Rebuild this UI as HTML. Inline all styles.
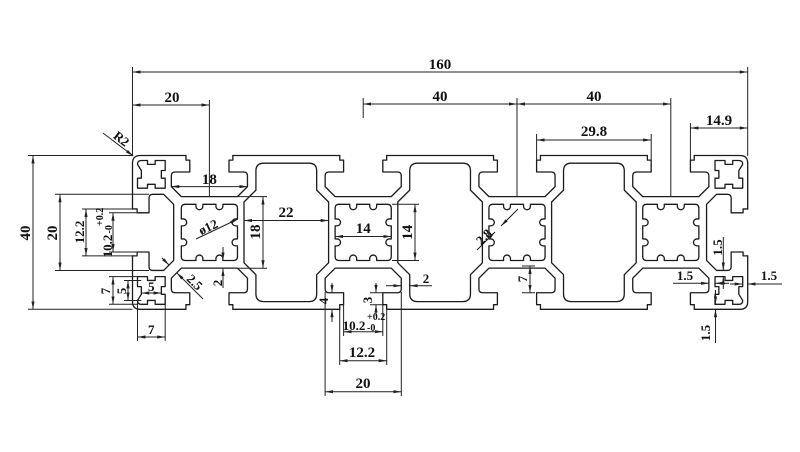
<!DOCTYPE html>
<html><head><meta charset="utf-8"><style>
html,body{margin:0;padding:0;background:#fff}
svg{display:block}
text{font-family:"Liberation Serif",serif;font-weight:bold;font-size:15px;fill:#111;text-anchor:middle}
text.s{font-size:10px;text-anchor:start}
text.m{font-size:13px}
.d{marker-start:url(#ar);marker-end:url(#ar)}
.e{marker-end:url(#ar)}
</style></head><body>
<svg width="800" height="452" viewBox="0 0 800 452" xmlns="http://www.w3.org/2000/svg">
<defs>
<marker id="ar" viewBox="0 0 10 4" refX="10" refY="2" markerWidth="8" markerHeight="3.2" markerUnits="userSpaceOnUse" orient="auto-start-reverse"><path d="M0,0 L10,2 L0,4 z" fill="#222" stroke="none"/></marker>
<path id="slot" d="M -6.1 0 V 1.2 H -5.1 V 4.3 H -8.9 Q -9.9 4.3 -9.9 5.3 V 8.1 L -7.3 10.7 H 7.3 L 9.9 8.1 V 5.3 Q 9.9 4.3 8.9 4.3 H 5.1 V 1.2 H 6.1 V 0"/>
<path id="cc" d="M 1.3 2.3 Q 1.3 1.3 2.3 1.3 H 3.9 V 2.3 H 5.9 V 1.3 H 8.5 V 3.9 H 7.5 V 5.9 H 8.5 V 8.5 H 5.9 V 7.5 H 3.9 V 8.5 H 1.3 V 5.9 H 2.3 V 3.9 Z"/>
<path id="big" d="M -5.9 2 H 5.9 Q 7.9 2 7.9 4 V 9 L 11 12.1 V 27.9 L 7.9 31 V 36 Q 7.9 38 5.9 38 H -5.9 Q -7.9 38 -7.9 36 V 31 L -11 27.9 V 12.1 L -7.9 9 V 4 Q -7.9 2 -5.9 2 Z"/>
<path id="gs" d="M -6.3 -7.3 H -3.5 V -6.8 A 0.9 0.9 0 0 0 -1.7 -6.8 V -7.3 H 1.7 V -6.8 A 0.9 0.9 0 0 0 3.5 -6.8 V -7.3 H 6.3 Q 7.3 -7.3 7.3 -6.3"/>
<g id="gear"><use href="#gs"/><use href="#gs" transform="rotate(90)"/><use href="#gs" transform="rotate(180)"/><use href="#gs" transform="rotate(270)"/></g>
</defs>

<!-- profile -->
<g transform="translate(132.5,155.5) scale(3.845)" fill="none" stroke="#1c1c1c" stroke-width="0.34" stroke-linejoin="round" stroke-linecap="round">
<path d="M 0 13.9 V 2 Q 0 0 2 0 H 13.9 M 26.1 0 H 53.9 M 66.1 0 H 93.9 M 106.1 0 H 133.9 M 146.1 0 H 158 Q 160 0 160 2 V 13.9 M 0 26.1 V 38 Q 0 40 2 40 H 13.9 M 26.1 40 H 53.9 M 66.1 40 H 93.9 M 106.1 40 H 133.9 M 146.1 40 H 158 Q 160 40 160 38 V 26.1"/>
<use href="#slot" transform="translate(20 0)"/>
<use href="#slot" transform="translate(60 0)"/>
<use href="#slot" transform="translate(100 0)"/>
<use href="#slot" transform="translate(140 0)"/>
<use href="#slot" transform="matrix(1 0 0 -1 20 40)"/>
<use href="#slot" transform="matrix(1 0 0 -1 60 40)"/>
<use href="#slot" transform="matrix(1 0 0 -1 100 40)"/>
<use href="#slot" transform="matrix(1 0 0 -1 140 40)"/>
<use href="#slot" transform="matrix(0 1 1 0 0 20)"/>
<use href="#slot" transform="matrix(0 1 -1 0 160 20)"/>
<use href="#cc"/>
<use href="#cc" transform="matrix(-1 0 0 1 160 0)"/>
<use href="#cc" transform="matrix(1 0 0 -1 0 40)"/>
<use href="#cc" transform="matrix(-1 0 0 -1 160 40)"/>
<use href="#big" transform="translate(40 0)"/>
<use href="#big" transform="translate(80 0)"/>
<use href="#big" transform="translate(120 0)"/>
<use href="#gear" transform="translate(20 20)"/>
<use href="#gear" transform="translate(60 20)"/>
<use href="#gear" transform="translate(100 20)"/>
<use href="#gear" transform="translate(140 20)"/>
</g>

<!-- dimension geometry -->
<g stroke="#222" stroke-width="1" fill="none">
<path d="M 132.5 67 V 156 M 747.7 67 V 156 M 209.4 100 V 196.6 M 363.2 98 V 118 M 517 98 V 196.6 M 670.8 98 V 196.6 M 536.6 134 V 160 M 651.2 134 V 160 M 690.4 123 V 160 M 28 155.5 H 132.5 M 28 309.3 H 132.5 M 55 194.3 H 149 M 55 270.5 H 149 M 82 209 H 132.5 M 82 255.9 H 132.5 M 109 212.8 H 149 M 109 252 H 149 M 109 276.6 H 137.5 M 109 304.3 H 137.5 M 124 280.5 H 141.3 M 124 300.5 H 141.3 M 137.5 300 V 341 M 165.2 296 V 341 M 238 196.6 H 267 M 238 268.2 H 267 M 392 204.3 H 419 M 392 260.5 H 419 M 522 266 H 535 M 522 292.8 H 535 M 370 292.8 H 383 M 370 304.7 H 383 M 343.6 305 V 336 M 382.8 305 V 336 M 339.7 309 V 365 M 386.7 309 V 365 M 325.1 292 V 396 M 401.3 292 V 396"/>

<path class="d" d="M 132.5 72 H 747.7"/>
<path class="d" d="M 132.5 105 H 209.4"/>
<path class="d" d="M 363.2 104 H 517"/>
<path class="d" d="M 517 104 H 670.8"/>
<path class="d" d="M 536.6 140 H 651.2"/>
<path class="d" d="M 690.4 128 H 747.7"/>
<path class="d" d="M 33 155.5 V 309.3"/>
<path class="d" d="M 60 194.3 V 270.5"/>
<path class="d" d="M 86 209 V 255.9"/>
<path class="d" d="M 113 212.8 V 252"/>
<path class="d" d="M 113 276.6 V 304.3"/>
<path class="d" d="M 128 280.5 V 300.5"/>
<path class="d" d="M 141.3 293 H 161.3"/>
<path class="d" d="M 137.5 337 H 165.2"/>
<path class="d" d="M 171.3 186.6 H 247.5"/>
<path class="d" d="M 263 196.6 V 268.2"/>
<path class="d" d="M 244 220.5 H 328.6"/>
<path class="d" d="M 335.1 236.5 H 391.3"/>
<path class="d" d="M 415 204.3 V 260.5"/>
<path class="d" d="M 530 266 V 292.8"/>
<path class="d" d="M 343.6 331.7 H 382.8"/>
<path class="d" d="M 339.7 360.7 H 386.7"/>
<path class="d" d="M 325.1 391.7 H 401.3"/>

<path class="e" d="M 223 247 V 260.5"/>
<path class="e" d="M 223 288 V 268.2"/>
<path class="e" d="M 386 285.7 H 401.3"/>
<path class="e" d="M 432 285.7 H 409.7"/>
<path class="e" d="M 162 258 L 169 265"/>
<path class="e" d="M 203 299 L 176.7 272.7"/>
<path class="e" d="M 477 250 L 495 232"/>
<path class="e" d="M 518 209 L 501 226"/>
<path class="e" d="M 332 283 V 292.8"/>
<path class="e" d="M 332 322 V 309.3"/>
<path class="e" d="M 376 283 V 292.8"/>
<path class="e" d="M 376 316 V 304.7"/>
<path class="e" d="M 723.3 237 V 270.5"/>
<path class="e" d="M 723.3 289 V 276.6"/>
<path class="e" d="M 673 283.3 H 708.9"/>
<path class="e" d="M 729 283.3 H 715"/>
<path class="e" d="M 730 284 H 742.7"/>
<path class="e" d="M 782 284 H 747.7"/>
<path class="e" d="M 715.5 290 V 304.3"/>
<path class="e" d="M 715.5 343 V 309.3"/>
<path class="e" d="M 103 133 L 133.3 156"/>
<path class="e" d="M 196 239 L 238 219"/>
</g>

<!-- labels -->
<text x="440" y="69">160</text>
<text x="172" y="102">20</text>
<text x="440" y="101">40</text>
<text x="594" y="101">40</text>
<text x="594" y="136">29.8</text>
<text x="719" y="125">14.9</text>
<text class="m" transform="translate(118.7,142.2) rotate(38)">R2</text>
<text transform="translate(30,233) rotate(-90)">40</text>
<text transform="translate(57,233) rotate(-90)">20</text>
<text class="m" transform="translate(84,232) rotate(-90)">12.2</text>
<text class="m" transform="translate(112,246) rotate(-90)">10.2</text>
<text class="s" transform="translate(112,233.5) rotate(-90)">-0</text>
<text class="s" transform="translate(103,226) rotate(-90)">+0.2</text>
<text class="m" transform="translate(110,291) rotate(-90)">7</text>
<text class="m" transform="translate(126,291) rotate(-90)">5</text>
<text class="m" x="151.3" y="291">5</text>
<text class="m" x="151.3" y="334">7</text>
<text x="209.4" y="184">18</text>
<text class="m" transform="translate(210,231) rotate(-25)">ø12</text>
<text transform="translate(260,232) rotate(-90)">18</text>
<text x="286" y="217">22</text>
<text x="363.2" y="233">14</text>
<text transform="translate(412,232.4) rotate(-90)">14</text>
<text class="m" x="426" y="283">2</text>
<text class="m" transform="translate(222,283) rotate(-90)">2</text>
<text class="m" transform="translate(191.6,285.4) rotate(45)">2.5</text>
<text class="m" transform="translate(487,240) rotate(-45)">2.8</text>
<text class="m" transform="translate(527,279) rotate(-90)">7</text>
<text class="m" transform="translate(328,301) rotate(-90)">4</text>
<text class="m" transform="translate(372,300) rotate(-90)">3</text>
<text class="m" x="354" y="330">10.2</text>
<text class="s" x="367" y="320">+0.2</text>
<text class="s" x="367" y="331">-0</text>
<text x="362" y="357">12.2</text>
<text x="363" y="388">20</text>
<text class="m" transform="translate(722,247.5) rotate(-90)">1.5</text>
<text class="m" x="685" y="280">1.5</text>
<text class="m" x="769" y="280">1.5</text>
<text class="m" transform="translate(710,333) rotate(-90)">1.5</text>
</svg>
</body></html>
